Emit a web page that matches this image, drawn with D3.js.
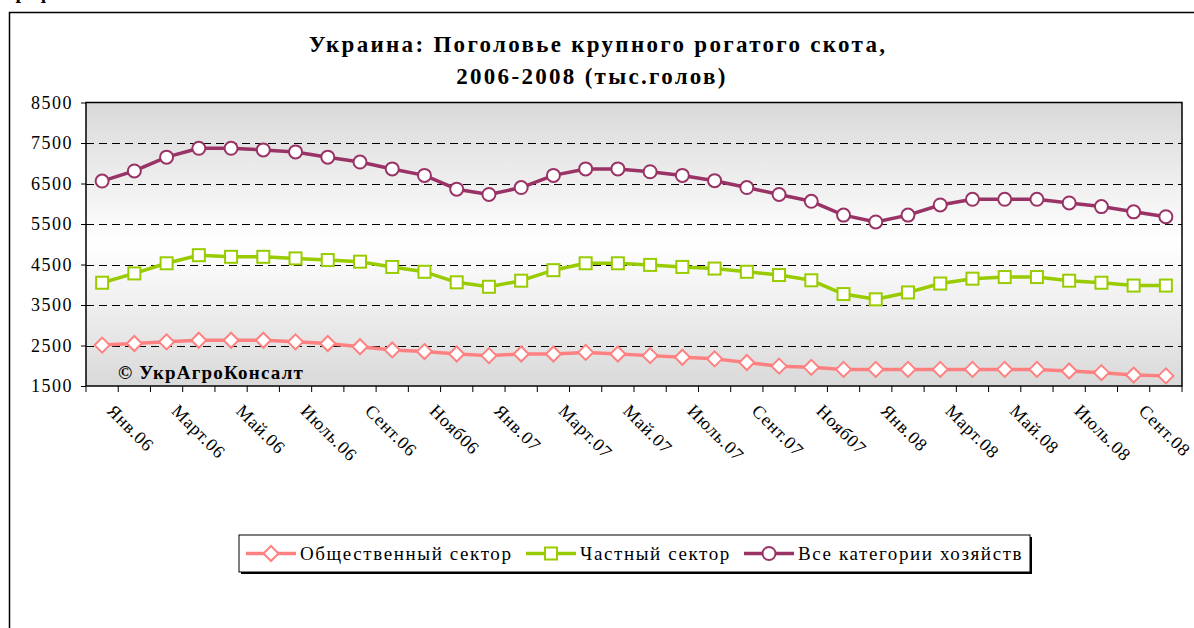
<!DOCTYPE html>
<html>
<head>
<meta charset="utf-8">
<script src="https://cdn.jsdelivr.net/npm/d3@7"></script>
<style>
  body { margin: 0; background: #fff; }
  svg { display: block; font-family: "Liberation Serif", "Times New Roman", serif; }
</style>
</head>
<body>
<div id="chart"></div>
<script>
// months Jan 2006 .. Oct 2008
var months = ["Янв.06","Февр.06","Март.06","Апр.06","Май.06","Июнь.06","Июль.06","Авг.06","Сент.06","Окт.06","Нояб06","Дек.06",
              "Янв.07","Февр.07","Март.07","Апр.07","Май.07","Июнь.07","Июль.07","Авг.07","Сент.07","Окт.07","Нояб07","Дек.07",
              "Янв.08","Февр.08","Март.08","Апр.08","Май.08","Июнь.08","Июль.08","Авг.08","Сент.08","Окт.08"];

// thousand heads
var publicSector = [2510,2550,2590,2630,2630,2630,2590,2550,2470,2390,2350,2290,
                    2250,2290,2290,2330,2290,2250,2210,2170,2080,1990,1960,1910,
                    1910,1910,1910,1910,1910,1910,1870,1830,1770,1750];
var privateSector = [4050,4280,4530,4730,4690,4690,4650,4610,4570,4440,4320,4060,
                     3950,4100,4360,4530,4530,4490,4440,4400,4320,4240,4110,3770,
                     3640,3810,4030,4150,4190,4190,4100,4050,3980,3980];
var allFarms = [6560,6810,7150,7370,7370,7330,7280,7150,7030,6860,6700,6360,
                6230,6400,6700,6860,6860,6790,6700,6570,6400,6230,6060,5720,
                5550,5720,5970,6110,6110,6110,6020,5930,5800,5680];

var seriesNames = ["Общественный сектор", "Частный сектор", "Все категории хозяйств"];
var yTicks = [1500,2500,3500,4500,5500,6500,7500,8500];

var width = 1194, height = 628;
var plot = {left: 86, right: 1182, top: 102.5, bottom: 386};

var series = [
  {name: seriesNames[0], values: publicSector, color: "#ff8080", marker: "diamond"},
  {name: seriesNames[1], values: privateSector, color: "#99cc00", marker: "square"},
  {name: seriesNames[2], values: allFarms, color: "#993366", marker: "circle"}
];

var svg = d3.select("#chart").append("svg")
    .attr("width", width)
    .attr("height", height);

var defs = svg.append("defs");
var grad = defs.append("linearGradient")
    .attr("id", "plotBg")
    .attr("x1", 0).attr("y1", 0).attr("x2", 0).attr("y2", 1);
grad.append("stop").attr("offset", "0%").attr("stop-color", "#d9d9d9");
grad.append("stop").attr("offset", "50%").attr("stop-color", "#ffffff");
grad.append("stop").attr("offset", "100%").attr("stop-color", "#d9d9d9");

// clipped heading above the frame (only descenders visible)
svg.append("text")
    .attr("x", 4).attr("y", -2)
    .style("font-weight", "bold")
    .style("font-size", "20px")
    .text("Граф");

// outer chart frame
svg.append("rect")
    .attr("x", 9.5).attr("y", 12.5)
    .attr("width", width + 20).attr("height", height)
    .attr("fill", "none")
    .attr("stroke", "#000")
    .attr("stroke-width", 1.5);

// title
var title = svg.append("text")
    .attr("text-anchor", "middle")
    .style("font-weight", "bold")
    .style("font-size", "23px")
    .style("letter-spacing", "2.3px");
title.append("tspan").attr("x", 598).attr("y", 52).text("Украина: Поголовье крупного рогатого скота,");
title.append("tspan").attr("x", 592).attr("y", 84).text("2006-2008 (тыс.голов)");

// scales
var x = d3.scaleBand()
    .domain(months)
    .range([plot.left, plot.right]);

var y = d3.scaleLinear()
    .domain([1500, 8500])
    .range([plot.bottom, plot.top]);

// plot area background
svg.append("rect")
    .attr("x", plot.left).attr("y", plot.top)
    .attr("width", plot.right - plot.left)
    .attr("height", plot.bottom - plot.top)
    .attr("fill", "url(#plotBg)");

// dashed grid lines
svg.append("g")
  .selectAll("line")
  .data(yTicks.slice(1, -1))
  .join("line")
    .attr("x1", plot.left).attr("x2", plot.right)
    .attr("y1", function(d) { return Math.round(y(d)) + 0.5; })
    .attr("y2", function(d) { return Math.round(y(d)) + 0.5; })
    .attr("stroke", "#000")
    .attr("stroke-width", 1)
    .attr("stroke-dasharray", "8,5");

// plot area border
svg.append("rect")
    .attr("x", plot.left).attr("y", plot.top)
    .attr("width", plot.right - plot.left)
    .attr("height", plot.bottom - plot.top)
    .attr("fill", "none")
    .attr("stroke", "#000")
    .attr("stroke-width", 1.5);

// y axis
var yAxis = svg.append("g")
    .attr("transform", "translate(" + plot.left + ",0)")
    .call(d3.axisLeft(y).tickValues(yTicks).tickFormat(d3.format("d"))
      .tickSize(5).tickPadding(8).tickSizeOuter(0));
yAxis.select(".domain").remove();
yAxis.selectAll("text")
    .style("font-family", "Liberation Serif, serif")
    .style("font-size", "18px")
    .style("letter-spacing", "1.5px")
    .attr("fill", "#000");

// x axis ticks between categories
var boundaries = months.map(function(m) { return x(m); }).concat([plot.right]);
svg.append("g")
  .selectAll("line")
  .data(boundaries)
  .join("line")
    .attr("x1", function(d) { return d; }).attr("x2", function(d) { return d; })
    .attr("y1", plot.bottom).attr("y2", plot.bottom + 6)
    .attr("stroke", "#000");

// every second month label, rotated
svg.append("g")
  .selectAll("text")
  .data(months.filter(function(m, i) { return i % 2 == 0; }))
  .join("text")
    .attr("transform", function(d) {
      return "translate(" + (x(d) + x.bandwidth() / 2 + 4) + "," + (plot.bottom + 26) + ") rotate(45)";
    })
    .style("font-size", "18px")
    .style("letter-spacing", "0.8px")
    .text(function(d) { return d; });

// watermark
svg.append("text")
    .attr("x", 118).attr("y", 379)
    .style("font-weight", "bold")
    .style("font-size", "19px")
    .style("letter-spacing", "1.2px")
    .text("© УкрАгроКонсалт");

// marker drawing helper
function drawMarker(sel, type, color) {
  if (type == "circle") {
    sel.append("circle").attr("r", 6.5);
  } else if (type == "square") {
    sel.append("rect").attr("x", -6).attr("y", -6).attr("width", 12).attr("height", 12);
  } else {
    sel.append("path").attr("d", "M0,-7.5L7.5,0L0,7.5L-7.5,0Z");
  }
  sel.selectAll("circle,rect,path")
      .attr("fill", "#fff")
      .attr("stroke", color)
      .attr("stroke-width", 2);
}

var line = d3.line()
    .x(function(d, i) { return x(months[i]) + x.bandwidth() / 2; })
    .y(function(d) { return y(d); });

series.forEach(function(s) {
  var g = svg.append("g");
  g.append("path")
      .attr("d", line(s.values))
      .attr("fill", "none")
      .attr("stroke", s.color)
      .attr("stroke-width", 3.5)
      .attr("stroke-linejoin", "round");

  g.selectAll("g.pt")
    .data(s.values)
    .join("g")
      .attr("class", "pt")
      .attr("transform", function(d, i) {
        return "translate(" + (x(months[i]) + x.bandwidth() / 2) + "," + y(d) + ")";
      })
      .each(function() { drawMarker(d3.select(this), s.marker, s.color); });
});

// legend
var legend = {x: 239, y: 535, w: 791, h: 37};
svg.append("rect")
    .attr("x", legend.x + 2).attr("y", legend.y + 2)
    .attr("width", legend.w).attr("height", legend.h)
    .attr("fill", "#000");
svg.append("rect")
    .attr("x", legend.x).attr("y", legend.y)
    .attr("width", legend.w).attr("height", legend.h)
    .attr("fill", "#fff")
    .attr("stroke", "#000");

var legendX = [246, 526, 744];
series.forEach(function(s, i) {
  var g = svg.append("g")
      .attr("transform", "translate(" + legendX[i] + "," + (legend.y + legend.h / 2) + ")");
  g.append("line")
      .attr("x1", 0).attr("x2", 50)
      .attr("stroke", s.color)
      .attr("stroke-width", 3.5);
  var m = g.append("g").attr("transform", "translate(25,0)");
  drawMarker(m, s.marker, s.color);
  g.append("text")
      .attr("x", 54).attr("y", 6)
      .style("font-size", "19px")
      .style("letter-spacing", "1.6px")
      .text(s.name);
});
</script>
</body>
</html>
